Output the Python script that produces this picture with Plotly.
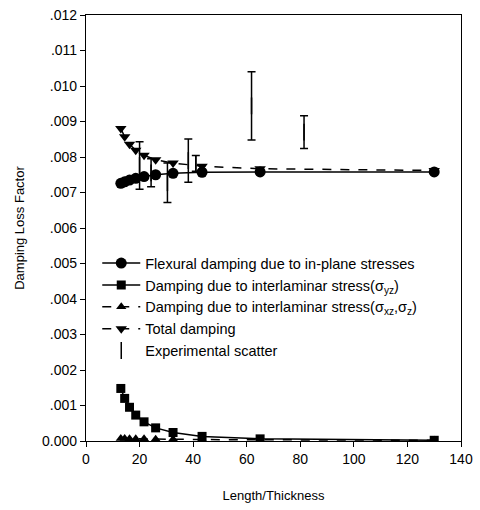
import plotly.graph_objects as go

# Length/Thickness ratios
length_thickness = [13.0, 14.44, 16.25, 18.57, 21.67, 26.0, 32.5, 43.33, 65.0, 130.0]
flexural = [0.00726, 0.00730, 0.00735, 0.00740, 0.00745, 0.00750, 0.00754, 0.00757, 0.00758, 0.00758]
interlaminar_yz = [0.00148, 0.00120, 0.00095, 0.00073, 0.00054, 0.00037, 0.00024, 0.00013, 0.00006, 0.00002]
interlaminar_xz_z = [0.00007, 0.00007, 0.00006, 0.00006, 0.00006, 0.00005, 0.00005, 0.00004, 0.00003, 0.00002]
total = [0.00880, 0.00857, 0.00836, 0.00819, 0.00805, 0.00792, 0.00783, 0.00774, 0.00767, 0.00762]

# Experimental scatter (ranges)
exp_x = [20.0, 24.3, 30.4, 38.2, 41.0, 61.8, 81.4]
exp_high = [0.00843, 0.00795, 0.00783, 0.00851, 0.00804, 0.01040, 0.00916]
exp_low = [0.00709, 0.00716, 0.00672, 0.00729, 0.00760, 0.00848, 0.00824]

ytick_vals = [0.000, 0.001, 0.002, 0.003, 0.004, 0.005, 0.006, 0.007, 0.008, 0.009, 0.010, 0.011, 0.012]
ytick_text = ["0.000", ".001", ".002", ".003", ".004", ".005", ".006", ".007", ".008", ".009", ".010", ".011", ".012"]
xtick_vals = [0, 20, 40, 60, 80, 100, 120, 140]

FONT = "Liberation Sans, Arial, sans-serif"

fig = go.Figure()
fig.add_trace(go.Scatter(
    x=length_thickness, y=flexural, mode="lines+markers",
    name="Flexural damping due to in-plane stresses",
    line=dict(color="black", width=1.5),
    marker=dict(symbol="circle", size=11, color="black")))
fig.add_trace(go.Scatter(
    x=length_thickness, y=interlaminar_yz, mode="lines+markers",
    name="Damping due to interlaminar stress(σ<sub>yz</sub>)",
    line=dict(color="black", width=1.5),
    marker=dict(symbol="square", size=9, color="black")))
fig.add_trace(go.Scatter(
    x=length_thickness, y=interlaminar_xz_z, mode="lines+markers",
    name="Damping due to interlaminar stress(σ<sub>xz</sub>,σ<sub>z</sub>)",
    line=dict(color="black", width=1.5, dash="dash"),
    marker=dict(symbol="triangle-up", size=9, color="black")))
fig.add_trace(go.Scatter(
    x=length_thickness, y=total, mode="lines+markers",
    name="Total damping",
    line=dict(color="black", width=1.5, dash="dash"),
    marker=dict(symbol="triangle-down", size=10, color="black")))

exp_mid = [(h + l) / 2 for h, l in zip(exp_high, exp_low)]
fig.add_trace(go.Scatter(
    x=exp_x, y=exp_mid, mode="markers",
    name="Experimental scatter",
    marker=dict(symbol="line-ns", size=12, color="black",
                line=dict(color="black", width=1.5)),
    error_y=dict(type="data", symmetric=False,
                 array=[h - m for h, m in zip(exp_high, exp_mid)],
                 arrayminus=[m - l for m, l in zip(exp_mid, exp_low)],
                 color="black", thickness=1.5, width=4)))

fig.update_layout(
    width=480, height=510,
    margin=dict(l=86, r=19, t=15, b=69),
    paper_bgcolor="white", plot_bgcolor="white",
    font=dict(family=FONT, size=13, color="black"),
    showlegend=True,
    legend=dict(x=0.03, y=0.455, xanchor="left", yanchor="top",
                bgcolor="rgba(0,0,0,0)", borderwidth=0,
                font=dict(family=FONT, size=14.5, color="black"),
                itemwidth=38, tracegroupgap=0),
)
fig.update_xaxes(
    range=[0, 140], tickvals=xtick_vals, automargin=False,
    showline=True, linecolor="black", linewidth=1.2, mirror=True,
    ticks="outside", ticklen=5, tickcolor="black",
    showgrid=False, zeroline=False,
    tickfont=dict(family=FONT, size=14),
    title=dict(text="Length/Thickness", font=dict(family=FONT, size=13), standoff=24))
fig.update_yaxes(
    range=[0, 0.012], tickvals=ytick_vals, ticktext=ytick_text, automargin=False,
    showline=True, linecolor="black", linewidth=1.2, mirror=True,
    ticks="outside", ticklen=5, tickcolor="black",
    showgrid=False, zeroline=False,
    tickfont=dict(family=FONT, size=14),
    title=dict(text="Damping Loss Factor", font=dict(family=FONT, size=13), standoff=14))

fig.write_html("out.html")
